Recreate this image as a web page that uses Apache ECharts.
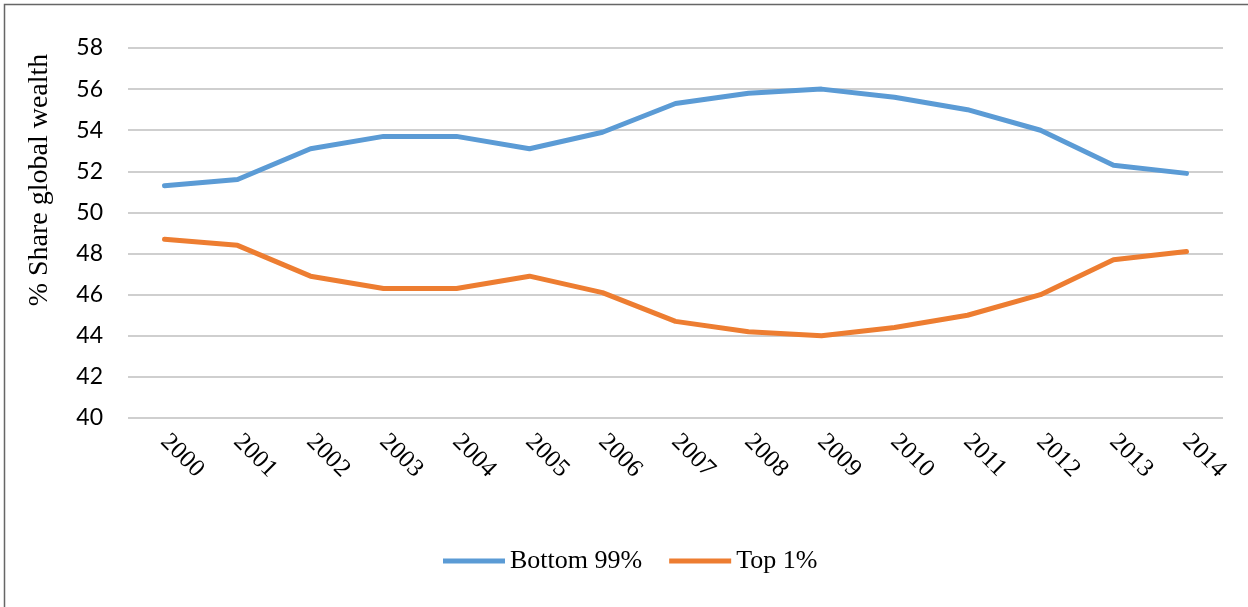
<!DOCTYPE html>
<html><head><meta charset="utf-8">
<script src="https://cdn.jsdelivr.net/npm/echarts@6/dist/echarts.min.js"></script>
<style>html,body{margin:0;padding:0;background:#fff}#c{width:1248px;height:607px}</style>
</head><body><div id="c"></div>
<script>
const years = ['2000','2001','2002','2003','2004','2005','2006','2007','2008','2009','2010','2011','2012','2013','2014'];
const bottom99 = [51.3,51.6,53.1,53.7,53.7,53.1,53.9,55.3,55.8,56.0,55.6,55.0,54.0,52.3,51.9];
const top1 = [48.7,48.4,46.9,46.3,46.3,46.9,46.1,44.7,44.2,44.0,44.4,45.0,46.0,47.7,48.1];
const yTicks = [40,42,44,46,48,50,52,54,56,58];

const chart = echarts.init(document.getElementById('c'), null, {renderer:'canvas'});
chart.setOption({
  animation:false,
  color:['#5B9BD5','#ED7D31'],
  grid:{left:128,right:25,top:48,bottom:189,containLabel:false},
  legend:{
    top:548,left:443,padding:0,itemWidth:62,itemHeight:5,itemGap:27,
    icon:'path://M0,0 L62,0 L62,5 L0,5 Z',
    textStyle:{fontFamily:'Liberation Serif',fontSize:26,color:'#000'},
    data:['Bottom 99%','Top 1%']
  },
  xAxis:{
    type:'category',data:years,boundaryGap:true,
    axisLine:{show:false},axisTick:{show:false},
    axisLabel:{rotate:-45,margin:20,fontFamily:'Liberation Serif',fontSize:25,color:'#000'}
  },
  yAxis:{
    type:'value',min:yTicks[0],max:yTicks[yTicks.length-1],interval:2,
    axisLine:{show:false},axisTick:{show:false},
    splitLine:{lineStyle:{color:'#BFBFBF',width:1.5}},
    axisLabel:{margin:25,fontFamily:'Lato',fontSize:23,color:'#000'}
  },
  series:[
    {name:'Bottom 99%',type:'line',data:bottom99,symbol:'none',lineStyle:{width:5,cap:'round',join:'round'}},
    {name:'Top 1%',type:'line',data:top1,symbol:'none',lineStyle:{width:5,cap:'round',join:'round'}}
  ],
  graphic:[
    {type:'rect',shape:{x:4.5,y:4.5,width:1300,height:700},style:{fill:'none',stroke:'#666',lineWidth:1.5},silent:true},
    {type:'text',x:40,y:180,rotation:Math.PI/2,
     style:{text:'% Share global wealth',font:'28px "Liberation Serif"',fill:'#000',align:'center',verticalAlign:'middle'}}
  ]
});
</script></body></html>
